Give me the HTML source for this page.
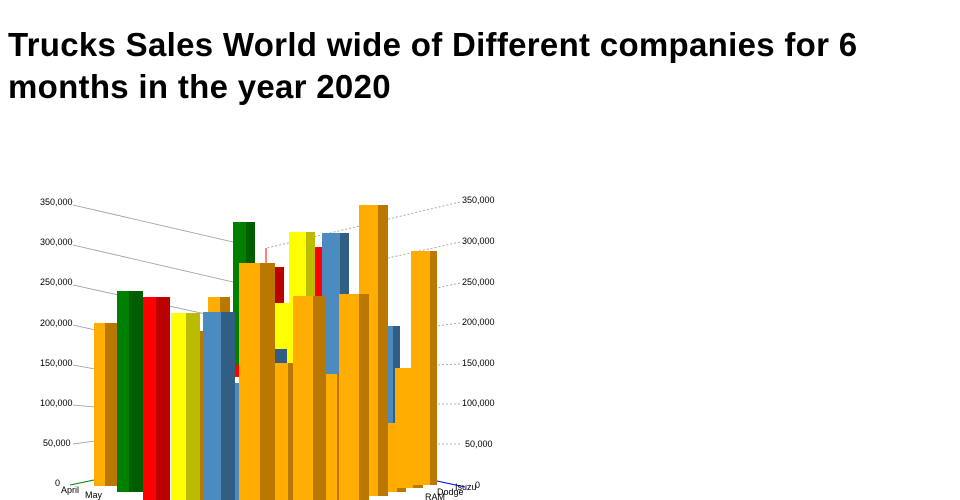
<!DOCTYPE html>
<html><head><meta charset="utf-8"><style>
html,body{margin:0;padding:0;background:#fff;width:960px;height:500px;overflow:hidden}
h1{position:absolute;left:8px;top:24px;margin:0;font:bold 33px/42px "Liberation Sans",sans-serif;color:#000;width:950px;letter-spacing:0.3px;white-space:nowrap}
svg{position:absolute;left:0;top:0}
text{font-family:"Liberation Sans",sans-serif;font-size:9px;fill:#000}
</style></head><body>
<h1>Trucks Sales World wide of Different companies for 6<br>months in the year 2020</h1>
<svg width="960" height="500">
<g stroke="#999" stroke-width="0.8">
<line x1="73" y1="205" x2="233" y2="242"/>
<line x1="73" y1="245" x2="233" y2="282"/>
<line x1="73" y1="285" x2="233" y2="320"/>
<line x1="73" y1="325" x2="100" y2="331"/>
<line x1="73" y1="365" x2="95" y2="369"/>
<line x1="73" y1="405" x2="95" y2="407"/>
<line x1="73" y1="444" x2="95" y2="441"/>
</g>
<g stroke="#999" stroke-width="0.8" stroke-dasharray="2,2">
<line x1="460" y1="202" x2="267" y2="248"/>
<line x1="460" y1="242" x2="388" y2="258"/>
<line x1="460" y1="283" x2="437" y2="288"/>
<line x1="460" y1="323" x2="437" y2="326"/>
<line x1="460" y1="364" x2="437" y2="365"/>
<line x1="460" y1="404" x2="437" y2="404"/>
<line x1="460" y1="444" x2="437" y2="444"/>
</g>
<line x1="70" y1="485" x2="94" y2="480" stroke="#080" />
<line x1="437" y1="481" x2="465" y2="487" stroke="#00f" />
<g font-size="9">
<text x="40" y="205">350,000</text><text x="40" y="245">300,000</text>
<text x="40" y="285">250,000</text><text x="40" y="326">200,000</text>
<text x="40" y="366">150,000</text><text x="40" y="406">100,000</text>
<text x="43" y="446">50,000</text><text x="55" y="486">0</text>
<text x="462" y="203">350,000</text><text x="462" y="244">300,000</text>
<text x="462" y="285">250,000</text><text x="462" y="325">200,000</text>
<text x="462" y="366">150,000</text><text x="462" y="406">100,000</text>
<text x="465" y="447">50,000</text><text x="475" y="488">0</text>
<text x="61" y="493">April</text><text x="85" y="498">May</text>
<text x="455" y="490">Isuzu</text><text x="437" y="495">Dodge</text><text x="425" y="500">RAM</text>
</g>
<rect x="208" y="297" width="12" height="203" fill="#ffad00"/><rect x="220" y="297" width="10" height="203" fill="#bb7800"/>
<rect x="200" y="331" width="8" height="170" fill="#bb7800"/>
<rect x="233" y="222" width="13" height="150" fill="#008000"/><rect x="246" y="222" width="9" height="150" fill="#005e00"/>
<line x1="266" y1="248" x2="266" y2="300" stroke="#f00"/>
<rect x="273" y="267" width="11" height="120" fill="#bb0000"/>
<rect x="289" y="232" width="17" height="140" fill="#ffff00"/><rect x="306" y="232" width="9" height="140" fill="#bbbb00"/>
<rect x="315" y="247" width="7" height="120" fill="#f00"/>
<rect x="322" y="233" width="18" height="200" fill="#4b8bc0"/><rect x="340" y="233" width="9" height="200" fill="#325e84"/>
<rect x="388" y="326" width="12" height="110" fill="#4b8bc0"/><rect x="393" y="326" width="7" height="110" fill="#325e84"/>
<rect x="274" y="303" width="19" height="60" fill="#ffff00"/>
<rect x="274" y="349" width="13" height="30" fill="#325e84"/>
<rect x="235" y="365" width="5" height="12" fill="#f00"/>
<g>
<rect x="94" y="323" width="11" height="163" fill="#ffad00"/><rect x="105" y="323" width="12" height="163" fill="#bb7800"/>
<rect x="117" y="291" width="12" height="201" fill="#008000"/><rect x="129" y="291" width="14" height="201" fill="#005e00"/>
<rect x="143" y="297" width="13" height="203" fill="#f00"/><rect x="156" y="297" width="14" height="203" fill="#bb0000"/>
<rect x="171" y="313" width="15" height="187" fill="#ffff00"/><rect x="186" y="313" width="14" height="187" fill="#bbbb00"/>
<rect x="203" y="312" width="18" height="188" fill="#4b8bc0"/><rect x="221" y="312" width="14" height="188" fill="#325e84"/>
<rect x="235" y="383" width="5" height="117" fill="#4b8bc0"/>
<rect x="239" y="263" width="21" height="237" fill="#ffad00"/><rect x="260" y="263" width="15" height="237" fill="#bb7800"/>
<rect x="275" y="363" width="13" height="137" fill="#ffad00"/><rect x="288" y="363" width="13" height="137" fill="#bb7800"/>
<rect x="293" y="296" width="20" height="204" fill="#ffad00"/><rect x="313" y="296" width="13" height="204" fill="#bb7800"/>
<rect x="326" y="374" width="11" height="126" fill="#ffad00"/><rect x="337" y="374" width="11" height="126" fill="#bb7800"/>
<rect x="359" y="205" width="19" height="291" fill="#ffad00"/><rect x="378" y="205" width="10" height="291" fill="#bb7800"/>
<rect x="339" y="294" width="20" height="206" fill="#ffad00"/><rect x="359" y="294" width="10" height="206" fill="#bb7800"/>
<rect x="388" y="423" width="9" height="69" fill="#ffad00"/><rect x="397" y="423" width="9" height="69" fill="#bb7800"/>
<rect x="395" y="368" width="18" height="120" fill="#ffad00"/><rect x="413" y="368" width="10" height="120" fill="#bb7800"/>
<rect x="411" y="251" width="19" height="234" fill="#ffad00"/><rect x="430" y="251" width="7" height="234" fill="#bb7800"/>
</g>
</svg>
</body></html>
